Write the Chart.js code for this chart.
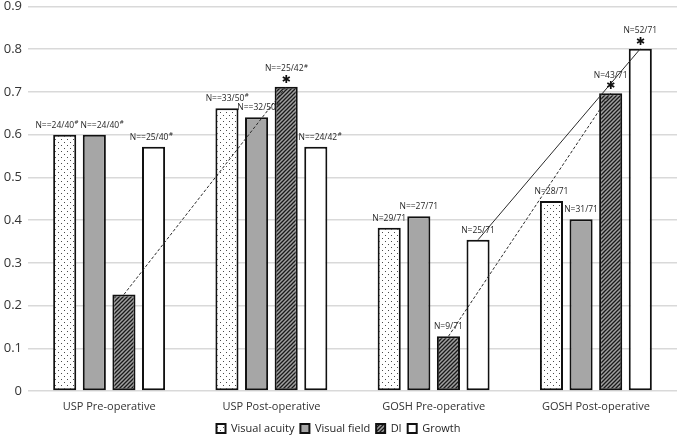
<!DOCTYPE html>
<html><head><meta charset="utf-8">
<script src="https://cdn.jsdelivr.net/npm/chart.js@4/dist/chart.umd.min.js"></script>
<style>html,body{margin:0;padding:0;background:#fff}canvas{display:block}</style>
</head><body>
<canvas id="c" width="677" height="437"></canvas>
<script>
// ---- data ----
const categories = ['USP Pre-operative', 'USP Post-operative', 'GOSH Pre-operative', 'GOSH Post-operative'];
const seriesNames = ['Visual acuity', 'Visual field', 'DI', 'Growth'];
const visualAcuity = [0.600, 0.662, 0.382, 0.445];
const visualField  = [0.600, 0.641, 0.409, 0.402];
const diValues     = [0.226, 0.712, 0.128, 0.697];
const growth       = [0.572, 0.572, 0.354, 0.801];
const vaNotes     = ['N==24/40#', 'N==33/50#', 'N=29/71', 'N=28/71'];
const vfNotes     = ['N==24/40#', 'N==32/50#', 'N==27/71', 'N=31/71'];
const diNotes     = ['', 'N==25/42#', 'N=9/71', 'N=43/71'];
const growthNotes = ['N==25/40#', 'N==24/42#', 'N=25/71', 'N=52/71'];
const vaStars     = [false, false, false, false];
const vfStars     = [false, false, false, false];
const diStars     = [false, true, false, true];
const growthStars = [false, false, false, true];
const yTicks = [0, 0.1, 0.2, 0.3, 0.4, 0.5, 0.6, 0.7, 0.8, 0.9];
// trend connectors: series index, from category, to category, dashed
const trendSeries = [2, 2, 3];
const trendFrom   = [0, 2, 2];
const trendTo     = [1, 3, 3];
const trendDashed = [true, true, false];

// ---- styling ----
const CAT_PCT = 0.73, BAR_PCT = 0.78;
const FONT = '"Open Sans", "Liberation Sans", sans-serif';
const canvas = document.getElementById('c');
const ctx = canvas.getContext('2d');

function makePattern(w, h, draw) {
  const c = document.createElement('canvas');
  c.width = w; c.height = h;
  draw(c.getContext('2d'), w, h);
  return ctx.createPattern(c, 'repeat');
}
const dotFill = makePattern(6, 6, (g, w, h) => {
  g.fillStyle = '#ffffff'; g.fillRect(0, 0, w, h);
  g.fillStyle = '#4a4a4a';
  g.fillRect(1, 1, 1, 1); g.fillRect(4, 4, 1, 1);
});
const hatchFill = makePattern(4, 4, (g, w, h) => {
  g.fillStyle = '#a0a0a0'; g.fillRect(0, 0, w, h);
  g.strokeStyle = '#1a1a1a'; g.lineWidth = 1.3;
  g.beginPath();
  g.moveTo(0, 4); g.lineTo(4, 0);
  g.moveTo(-1, 1); g.lineTo(1, -1);
  g.moveTo(3, 5); g.lineTo(5, 3);
  g.stroke();
});

const trendPlugin = {
  id: 'trendLines',
  afterDatasetsDraw(chart) {
    const c = chart.ctx;
    c.save();
    c.strokeStyle = '#2a2a2a';
    c.lineWidth = 1;
    trendSeries.forEach((s, k) => {
      const meta = chart.getDatasetMeta(s);
      const a = meta.data[trendFrom[k]], b = meta.data[trendTo[k]];
      if (!a || !b) return;
      c.setLineDash(trendDashed[k] ? [3, 2] : []);
      c.beginPath();
      c.moveTo(a.x, a.y);
      c.lineTo(b.x, b.y);
      c.stroke();
    });
    c.restore();
  }
};

const notesPlugin = {
  id: 'barNotes',
  afterDatasetsDraw(chart, args, opts) {
    const c = chart.ctx;
    c.save();
    c.textBaseline = 'middle';
    c.textAlign = 'left';
    opts.notes.forEach((notes, di) => {
      const meta = chart.getDatasetMeta(di);
      notes.forEach((txt, j) => {
        const el = meta.data[j];
        if (!el) return;
        const star = opts.stars[di][j];
        const nudge = (opts.nudge[di] || [])[j] || 0;
        let y = el.y - 9.5;
        if (star) {
          c.font = '11px "DejaVu Sans"';
          const sw = c.measureText('\u2731').width;
          c.fillStyle = '#111';
          c.fillText('\u2731', el.x - sw / 2, el.y - 7);
          y = el.y - 18;
        }
        if (!txt) return;
        c.fillStyle = '#262626';
        const sup = txt.endsWith('#');
        const main = sup ? txt.slice(0, -1) : txt;
        c.font = '8.5px ' + FONT;
        const wm = c.measureText(main).width;
        c.font = '6px ' + FONT;
        const ws = sup ? c.measureText('#').width : 0;
        const x0 = el.x + nudge - (wm + ws) / 2;
        c.font = '8.5px ' + FONT;
        c.fillText(main, x0, y);
        if (sup) { c.font = '6px ' + FONT; c.fillText('#', x0 + wm + 0.5, y - 3); }
      });
    });
    c.restore();
  }
};

const barBase = { type: 'bar', borderColor: '#111111', borderWidth: 2, borderSkipped: false };

new Chart(ctx, {
  type: 'bar',
  data: {
    labels: categories,
    datasets: [
      Object.assign({}, barBase, { label: seriesNames[0], data: visualAcuity, backgroundColor: dotFill }),
      Object.assign({}, barBase, { label: seriesNames[1], data: visualField, backgroundColor: '#a6a6a6' }),
      Object.assign({}, barBase, { label: seriesNames[2], data: diValues, backgroundColor: hatchFill }),
      Object.assign({}, barBase, { label: seriesNames[3], data: growth, backgroundColor: '#ffffff' })
    ]
  },
  options: {
    responsive: false,
    animation: false,
    layout: { padding: { top: 6.5, right: 0, left: 0, bottom: -7 } },
    datasets: { bar: { categoryPercentage: CAT_PCT, barPercentage: BAR_PCT } },
    plugins: {
      legend: {
        position: 'bottom',
        labels: {
          boxWidth: 9, boxHeight: 9, padding: 6,
          font: { family: FONT, size: 11 }, color: '#1f1f1f'
        }
      },
      tooltip: { enabled: false },
      barNotes: {
        notes: [vaNotes, vfNotes, diNotes, growthNotes],
        stars: [vaStars, vfStars, diStars, growthStars],
        nudge: [[-8, 0, 0, 0], [7.5, 2, 0, 0], [0, 0, 0, 0], [-2.5, 4, 0, 0]]
      }
    },
    scales: {
      x: {
        grid: { display: false, drawTicks: false },
        border: { display: false },
        afterFit: s => { s.height = 26; },
        ticks: { font: { family: FONT, size: 11 }, color: '#333333', padding: 9 }
      },
      y: {
        min: 0, max: 0.9,
        afterBuildTicks: s => { s.ticks = yTicks.map(v => ({ value: v })); },
        afterFit: s => { s.width = 28; s.paddingTop = 0; s.paddingBottom = 0; },
        grid: { color: '#d9d9d9', lineWidth: 1.5, drawTicks: false },
        border: { display: false },
        ticks: { font: { family: FONT, size: 13 }, color: '#333333', padding: 6,
                 callback: v => String(+v.toFixed(1)) }
      }
    }
  },
  plugins: [trendPlugin, notesPlugin]
});
</script>
</body></html>
